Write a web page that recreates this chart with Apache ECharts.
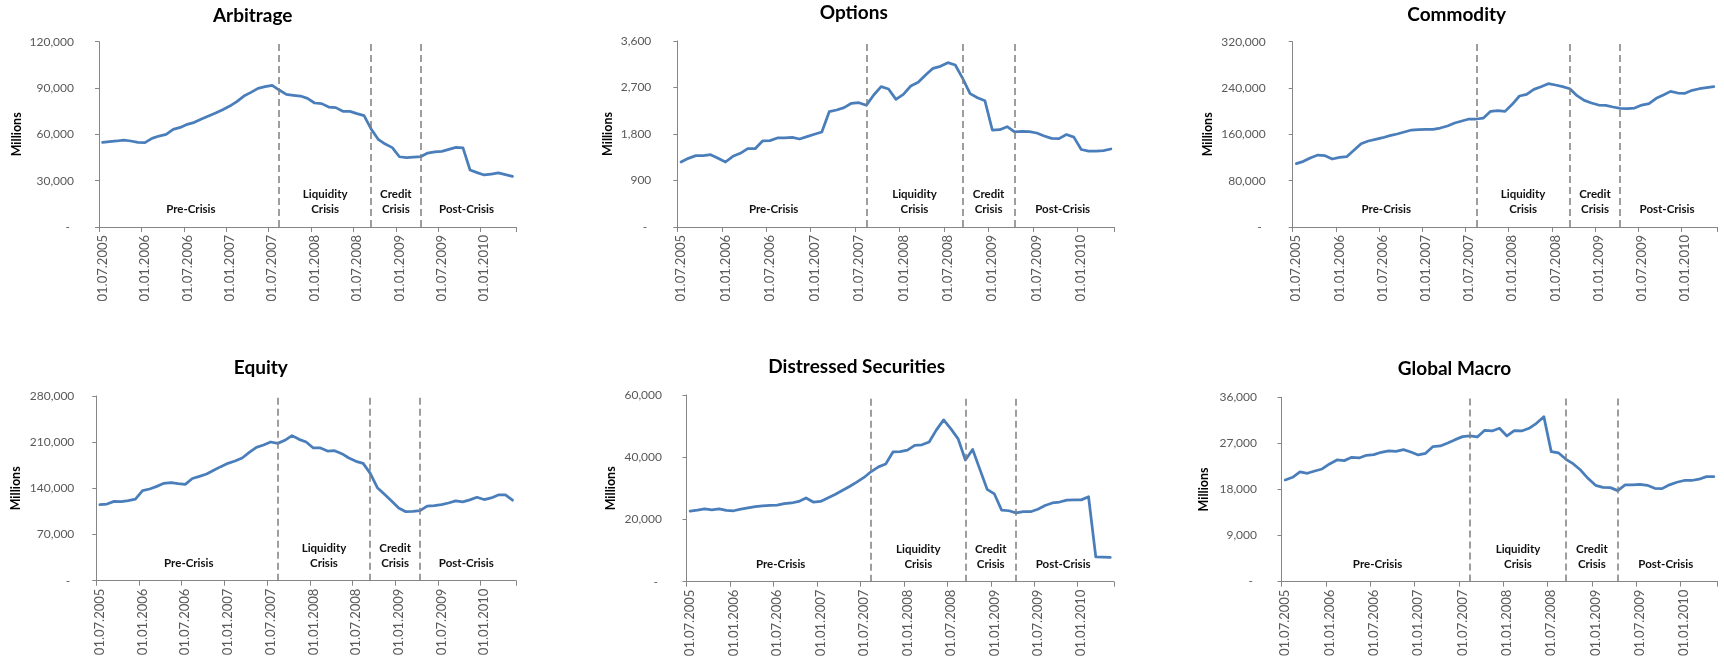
<!DOCTYPE html>
<html>
<head>
<meta charset="utf-8">
<title>Hedge fund assets by strategy, 2005–2010</title>
<script src="https://cdn.jsdelivr.net/npm/echarts@6/dist/echarts.min.js"></script>
<style>
  html, body { margin: 0; padding: 0; background: #ffffff; }
  #chart { width: 1724px; height: 658px; }
</style>
</head>
<body>
<div id="chart"></div>
<script>
// Monthly observations, July 2005 – May 2010
const months = [
  '01.07.2005','01.08.2005','01.09.2005','01.10.2005','01.11.2005','01.12.2005',
  '01.01.2006','01.02.2006','01.03.2006','01.04.2006','01.05.2006','01.06.2006',
  '01.07.2006','01.08.2006','01.09.2006','01.10.2006','01.11.2006','01.12.2006',
  '01.01.2007','01.02.2007','01.03.2007','01.04.2007','01.05.2007','01.06.2007',
  '01.07.2007','01.08.2007','01.09.2007','01.10.2007','01.11.2007','01.12.2007',
  '01.01.2008','01.02.2008','01.03.2008','01.04.2008','01.05.2008','01.06.2008',
  '01.07.2008','01.08.2008','01.09.2008','01.10.2008','01.11.2008','01.12.2008',
  '01.01.2009','01.02.2009','01.03.2009','01.04.2009','01.05.2009','01.06.2009',
  '01.07.2009','01.08.2009','01.09.2009','01.10.2009','01.11.2009','01.12.2009',
  '01.01.2010','01.02.2010','01.03.2010','01.04.2010','01.05.2010'
];

// Assets under management (millions)
const arbitrage = [54800,55300,55700,56300,55700,54800,54600,57400,58900,60000,63200,64500,66500,67800,69900,71900,73800,76000,78300,81200,84800,87200,89800,90900,91700,88700,85900,85300,84800,83300,80300,79900,77700,77300,74900,74900,73400,72100,63500,56800,53700,51400,45500,44900,45300,45500,47900,48600,49000,50300,51600,51200,36900,35200,33700,34300,35000,33900,32800];
const optionsFunds = [1258,1329,1381,1381,1400,1329,1258,1368,1426,1516,1516,1665,1671,1723,1723,1735,1703,1748,1794,1839,2232,2265,2310,2394,2406,2355,2555,2716,2671,2471,2568,2729,2800,2942,3071,3110,3181,3135,2877,2581,2503,2445,1877,1884,1942,1839,1852,1845,1819,1761,1716,1710,1790,1740,1500,1470,1470,1480,1510];
const commodity = [109400,113400,119700,124300,123200,117400,120300,121400,132400,143900,148500,151400,154200,157700,160600,164000,167500,168100,168600,168600,170900,174400,179600,183000,186500,186500,188200,199700,200900,199700,211800,226200,229100,237700,242300,247500,245200,242300,238800,226800,218700,214100,210600,210000,207200,204900,204300,205400,210600,212900,222200,228000,234200,231400,230800,236000,238800,240600,242300];
const equity = [115200,116200,120300,119800,121300,123800,136500,139000,143000,147600,148600,147100,146100,155000,158200,161700,167300,172900,177900,181400,186000,194600,202200,205700,210300,208200,212800,219900,214300,210300,201200,201200,196600,197100,192600,186000,181000,177900,162700,141000,130900,120800,110200,104600,105100,106100,113200,113700,115200,117800,121000,119500,122500,126500,123000,125500,130000,130000,122000];
const distressed = [22700,23000,23400,23100,23400,22900,22800,23300,23700,24100,24400,24500,24600,25100,25300,25800,26900,25600,25800,26900,28000,29300,30600,32000,33500,35400,36900,37800,41700,41800,42300,43800,44000,44900,48800,52000,49100,45900,39100,42500,36100,29700,28200,23000,22800,22100,22500,22500,23300,24500,25300,25600,26200,26300,26300,27300,8000,7900,7800];
const globalMacro = [19860,20380,21420,21160,21610,22000,22980,23760,23630,24280,24150,24670,24800,25260,25520,25450,25780,25320,24740,25060,26370,26500,27080,27730,28320,28450,28250,29550,29420,29950,28450,29490,29420,29950,30920,32220,25390,25130,23890,22980,21740,20120,18810,18420,18360,17770,18880,18880,19010,18810,18230,18160,18900,19400,19750,19750,20000,20500,20500];

// Y axis ranges: [max, step]
const axisArbitrage = [120000, 30000];
const axisOptions = [3600, 900];
const axisCommodity = [320000, 80000];
const axisEquity = [280000, 70000];
const axisDistressed = [60000, 20000];
const axisGlobalMacro = [36000, 9000];

// Market phases and the months that separate them
const phaseNames = ['Pre-Crisis', 'Liquidity\nCrisis', 'Credit\nCrisis', 'Post-Crisis'];
const phaseBreaks = ['01.08.2007', '01.09.2008', '01.04.2009'];

// Panel layout (pixels)
const panels = [
  { title: 'Arbitrage', data: arbitrage, axis: axisArbitrage,
    grid: { left: 99, top: 41.7, width: 417, height: 185.3 }, titleX: 252.7, titleY: 16, unitX: 16.6, labelGap: 25 },
  { title: 'Options', data: optionsFunds, axis: axisOptions,
    grid: { left: 677.3, top: 41, width: 437.3, height: 186 }, titleX: 853.8, titleY: 13.3, unitX: 607.7, labelGap: 26 },
  { title: 'Commodity', data: commodity, axis: axisCommodity,
    grid: { left: 1292.7, top: 41.7, width: 424.7, height: 185.3 }, titleX: 1456.7, titleY: 15, unitX: 1207.8, labelGap: 27 },
  { title: 'Equity', data: equity, axis: axisEquity,
    grid: { left: 96.3, top: 396, width: 419.8, height: 184.7 }, titleX: 260.8, titleY: 368.3, unitX: 15.5, labelGap: 22 },
  { title: 'Distressed Securities', data: distressed, axis: axisDistressed,
    grid: { left: 686.5, top: 395, width: 427.4, height: 186.7 }, titleX: 856.7, titleY: 367.3, unitX: 611.4, labelGap: 24.5 },
  { title: 'Global Macro', data: globalMacro, axis: axisGlobalMacro,
    grid: { left: 1281.5, top: 397.3, width: 436, height: 184.3 }, titleX: 1454.5, titleY: 369.3, unitX: 1204.2, labelGap: 24.5 }
];

const FONT = 'Lato, "Liberation Sans", Arial, sans-serif';
const AXIS_GREY = '#868686';
const LABEL_GREY = '#595959';
const LINE_BLUE = '#4a7ebb';

// Phase spans: from the first month to each break, then to the last month
const phaseEdges = [months[0]].concat(phaseBreaks, [months[months.length - 1]]);

function fmtValue(v) {
  if (v === 0) return '{z|-}';
  return v.toLocaleString('en-US');
}

const grids = [], xAxes = [], yAxes = [], series = [], graphics = [];

panels.forEach((p, i) => {
  grids.push(Object.assign({ containLabel: false, outerBoundsMode: 'none' }, p.grid));

  xAxes.push({
    type: 'category',
    gridIndex: i,
    data: months,
    boundaryGap: true,
    axisLine: { show: true, lineStyle: { color: AXIS_GREY, width: 1 } },
    axisTick: { show: true, interval: 5, length: 5, lineStyle: { color: AXIS_GREY } },
    axisLabel: {
      interval: 5, rotate: 90, margin: 8,
      fontFamily: FONT, fontSize: 13, color: LABEL_GREY
    },
    splitLine: { show: false }
  });

  yAxes.push({
    type: 'value',
    gridIndex: i,
    min: 0,
    max: p.axis[0],
    interval: p.axis[1],
    axisLine: { show: true, lineStyle: { color: AXIS_GREY, width: 1 } },
    axisTick: { show: true, length: 4, lineStyle: { color: AXIS_GREY } },
    axisLabel: {
      margin: p.labelGap,
      fontFamily: FONT, fontSize: 12, color: LABEL_GREY,
      formatter: fmtValue,
      rich: { z: { fontFamily: FONT, fontSize: 12, color: LABEL_GREY, padding: [0, 4, 0, 0] } }
    },
    splitLine: { show: false }
  });

  series.push({
    type: 'line',
    xAxisIndex: i,
    yAxisIndex: i,
    data: p.data,
    showSymbol: false,
    symbol: 'none',
    silent: true,
    lineStyle: { color: LINE_BLUE, width: 2.75, join: 'round', cap: 'round' },
    itemStyle: { color: LINE_BLUE },
    markLine: {
      silent: true,
      symbol: ['none', 'none'],
      label: { show: false },
      lineStyle: { color: '#7f7f7f', width: 1.5, type: [7, 4] },
      data: phaseBreaks.map(m => ({ xAxis: m }))
    },
    markArea: {
      silent: true,
      itemStyle: { color: 'rgba(0,0,0,0)' },
      label: {
        show: true,
        position: 'insideBottom',
        distance: 10,
        fontFamily: FONT, fontWeight: 'bold', fontSize: 11.5, lineHeight: 15,
        color: '#111111', align: 'center'
      },
      data: phaseNames.map((name, k) => [
        { name: name, xAxis: phaseEdges[k] },
        { xAxis: phaseEdges[k + 1] }
      ])
    }
  });

  graphics.push({
    type: 'text',
    x: p.titleX,
    y: p.titleY,
    silent: true,
    style: {
      text: p.title,
      align: 'center', verticalAlign: 'middle',
      fontFamily: FONT, fontWeight: 'bold', fontSize: 19, fill: '#000000'
    }
  });

  graphics.push({
    type: 'text',
    x: p.unitX,
    y: p.grid.top + p.grid.height / 2,
    rotation: Math.PI / 2,
    silent: true,
    style: {
      text: 'Millions',
      align: 'center', verticalAlign: 'middle',
      fontFamily: FONT, fontWeight: 'bold', fontSize: 12.5, fill: '#000000'
    }
  });
});

const chart = echarts.init(document.getElementById('chart'), null, { renderer: 'canvas' });
chart.setOption({
  backgroundColor: '#ffffff',
  animation: false,
  grid: grids,
  xAxis: xAxes,
  yAxis: yAxes,
  series: series,
  graphic: graphics
});
</script>
</body>
</html>
